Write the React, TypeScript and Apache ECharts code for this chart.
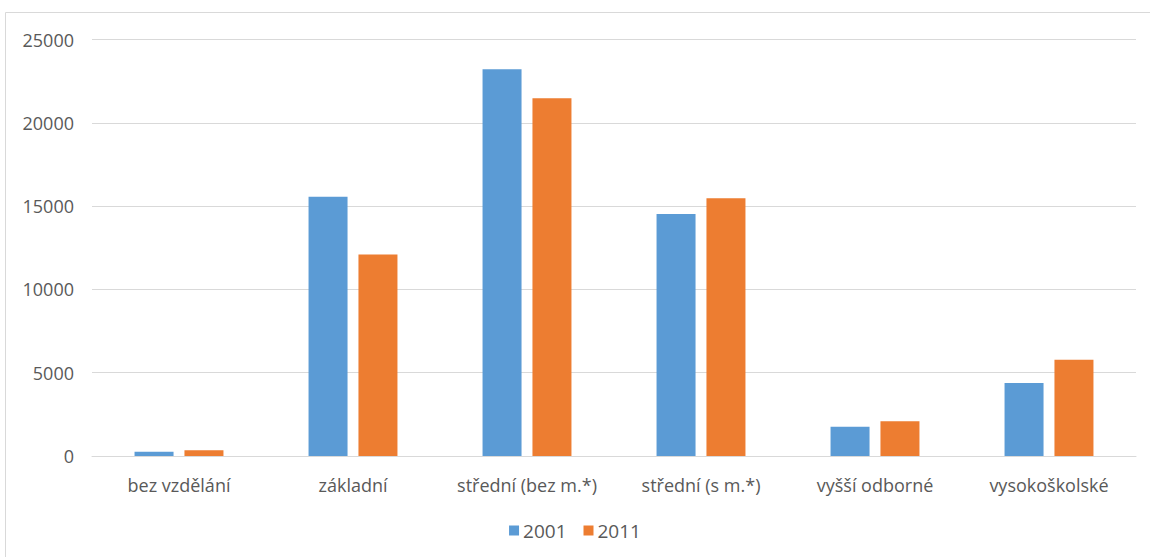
import React, { useEffect, useRef } from "react";
import * as echarts from "echarts";

const categories = [
  "bez vzdělání",
  "základní",
  "střední (bez m.*)",
  "střední (s m.*)",
  "vyšší odborné",
  "vysokoškolské",
];
const values2001 = [250, 15560, 23210, 14520, 1750, 4380];
const values2011 = [350, 12100, 21470, 15470, 2080, 5770];
const seriesNames = ["2001", "2011"];
const colors = ["#5B9BD5", "#ED7D31"];

const FONT = "'Open Sans', sans-serif";

export default function App() {
  const ref = useRef<HTMLDivElement>(null);
  useEffect(() => {
    if (!ref.current) return;
    const chart = echarts.init(ref.current, undefined, { renderer: "svg" });
    chart.setOption({
      animation: false,
      backgroundColor: "#ffffff",
      graphic: [
        {
          type: "rect",
          shape: { x: 5.5, y: 12.5, width: 1200, height: 600 },
          style: { fill: "none", stroke: "#D9D9D9", lineWidth: 1 },
          silent: true,
          z: -1,
        },
      ],
      grid: { left: 92, right: 14, top: 39.5, bottom: 101, containLabel: false },
      legend: {
        data: seriesNames,
        bottom: 12,
        left: "center",
        itemWidth: 10,
        itemHeight: 10,
        itemGap: 17,
        icon: "rect",
        textStyle: { fontFamily: FONT, fontSize: 19, color: "#595959", padding: [0, 0, 0, -1] },
      },
      xAxis: {
        type: "category",
        data: categories,
        axisLine: { show: true, lineStyle: { color: "#D9D9D9", width: 1 } },
        axisTick: { show: false },
        axisLabel: {
          fontFamily: FONT,
          fontSize: 18,
          color: "#595959",
          margin: 20,
          interval: 0,
        },
      },
      yAxis: {
        type: "value",
        min: 0,
        max: 25000,
        interval: 5000,
        axisLine: { show: false },
        axisTick: { show: false },
        splitLine: { lineStyle: { color: "#D9D9D9", width: 1 } },
        axisLabel: {
          fontFamily: FONT,
          fontSize: 18,
          color: "#595959",
          margin: 18,
          formatter: (v: number) => String(v),
        },
      },
      series: [
        {
          name: seriesNames[0],
          type: "bar",
          data: values2001,
          barWidth: 39,
          barGap: "28%",
          itemStyle: { color: colors[0] },
        },
        {
          name: seriesNames[1],
          type: "bar",
          data: values2011,
          barWidth: 39,
          barGap: "28%",
          itemStyle: { color: colors[1] },
        },
      ],
    });
    return () => chart.dispose();
  }, []);
  return (
    <div
      ref={ref}
      style={{ position: "fixed", left: 0, top: 0, width: 1150, height: 557 }}
    />
  );
}
